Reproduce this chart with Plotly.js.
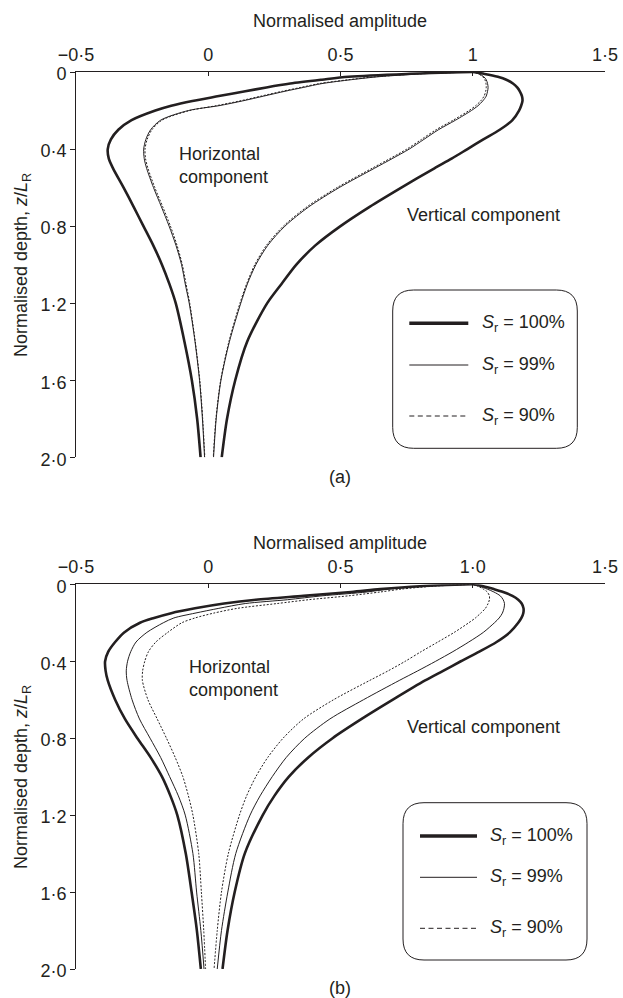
<!DOCTYPE html>
<html><head><meta charset="utf-8">
<script src="https://cdn.plot.ly/plotly-3.0.1.min.js"></script>
<style>html,body{margin:0;padding:0;background:#fff}#chart{width:623px;height:998px}</style>
</head><body><div id="chart"></div><script>
// Normalised depth z/L_R (shared sampling for all curves)
const depth = [0, 0.01, 0.025, 0.04, 0.06, 0.08, 0.1, 0.125, 0.15, 0.175, 0.2, 0.25, 0.3, 0.35, 0.4, 0.45, 0.5, 0.6, 0.7, 0.8, 0.9, 1.0, 1.1, 1.2, 1.4, 1.6, 1.8, 2.0];

// Panel (a) - horizontal component
const aH100 = [1.0, 0.75, 0.53, 0.43, 0.31, 0.22, 0.14, 0.04, -0.06, -0.14, -0.2, -0.29, -0.34, -0.368, -0.38, -0.376, -0.36, -0.32, -0.282, -0.245, -0.208, -0.175, -0.147, -0.123, -0.09, -0.062, -0.042, -0.029];
const aH99  = [1.0, 0.8, 0.64, 0.54, 0.43, 0.36, 0.29, 0.21, 0.13, 0.04, -0.075, -0.18, -0.218, -0.236, -0.244, -0.242, -0.233, -0.207, -0.177, -0.148, -0.122, -0.101, -0.087, -0.072, -0.05, -0.033, -0.022, -0.014];
const aH90  = [1.0, 0.79, 0.63, 0.53, 0.42, 0.35, 0.28, 0.2, 0.12, 0.03, -0.07, -0.175, -0.213, -0.231, -0.239, -0.237, -0.228, -0.202, -0.172, -0.143, -0.118, -0.098, -0.084, -0.07, -0.049, -0.032, -0.021, -0.013];
// Panel (a) - vertical component
const aV100 = [1.0, 1.045, 1.095, 1.127, 1.152, 1.168, 1.178, 1.186, 1.188, 1.183, 1.175, 1.15, 1.102, 1.04, 0.98, 0.92, 0.855, 0.73, 0.61, 0.50, 0.405, 0.333, 0.277, 0.223, 0.147, 0.102, 0.071, 0.051];
const aV99  = [1.0, 1.025, 1.042, 1.051, 1.056, 1.058, 1.056, 1.051, 1.038, 1.02, 0.995, 0.935, 0.87, 0.815, 0.76, 0.695, 0.628, 0.495, 0.38, 0.29, 0.225, 0.18, 0.148, 0.123, 0.08, 0.048, 0.03, 0.02];
const aV90  = [1.0, 1.022, 1.038, 1.046, 1.05, 1.051, 1.049, 1.043, 1.03, 1.011, 0.986, 0.926, 0.861, 0.806, 0.751, 0.686, 0.619, 0.487, 0.373, 0.284, 0.22, 0.176, 0.145, 0.12, 0.078, 0.047, 0.029, 0.019];

// Panel (b) - horizontal component
const bH100 = [1.0, 0.8, 0.65, 0.54, 0.36, 0.18, 0.06, -0.05, -0.14, -0.205, -0.258, -0.318, -0.352, -0.378, -0.39, -0.388, -0.38, -0.352, -0.315, -0.268, -0.218, -0.175, -0.143, -0.117, -0.085, -0.063, -0.043, -0.028];
const bH99  = [1.0, 0.82, 0.68, 0.6, 0.43, 0.3, 0.14, 0.04, -0.05, -0.13, -0.17, -0.232, -0.273, -0.293, -0.305, -0.31, -0.307, -0.288, -0.26, -0.22, -0.18, -0.146, -0.113, -0.087, -0.058, -0.044, -0.028, -0.016];
const bH90  = [1.0, 0.85, 0.73, 0.65, 0.53, 0.38, 0.26, 0.11, 0.02, -0.05, -0.1, -0.153, -0.198, -0.226, -0.24, -0.248, -0.249, -0.228, -0.193, -0.158, -0.125, -0.096, -0.075, -0.058, -0.036, -0.026, -0.017, -0.01];
// Panel (b) - vertical component
const bV100 = [1.0, 1.04, 1.08, 1.115, 1.15, 1.172, 1.185, 1.192, 1.191, 1.184, 1.172, 1.14, 1.09, 1.025, 0.955, 0.888, 0.82, 0.698, 0.58, 0.47, 0.378, 0.305, 0.25, 0.206, 0.138, 0.1, 0.073, 0.054];
const bV99  = [1.0, 1.025, 1.055, 1.08, 1.104, 1.115, 1.12, 1.118, 1.112, 1.1, 1.082, 1.04, 0.985, 0.925, 0.86, 0.792, 0.722, 0.587, 0.46, 0.365, 0.295, 0.242, 0.196, 0.158, 0.104, 0.074, 0.05, 0.034];
const bV90  = [1.0, 1.02, 1.04, 1.055, 1.063, 1.063, 1.058, 1.048, 1.03, 1.01, 0.985, 0.93, 0.868, 0.805, 0.745, 0.68, 0.61, 0.474, 0.36, 0.283, 0.225, 0.18, 0.145, 0.118, 0.076, 0.05, 0.034, 0.022];

// Tick labels
const xTickVals = [-0.5, 0, 0.5, 1, 1.5];
const xTickTextA = ['\u22120\u00b75', '0', '0\u00b75', '1', '1\u00b75'];
const xTickTextB = ['\u22120\u00b75', '0', '0\u00b75', '1\u00b70', '1\u00b75'];
const yTickVals = [0, 0.4, 0.8, 1.2, 1.6, 2.0];
const yTickText = ['0', '0\u00b74', '0\u00b78', '1\u00b72', '1\u00b76', '2\u00b70'];
const legendLabels = ['<i>S</i><sub>r</sub> = 100%', '<i>S</i><sub>r</sub> = 99%', '<i>S</i><sub>r</sub> = 90%'];

// ---------- layout helpers ----------
const W = 623, H = 998, M = {l: 76, r: 18, t: 72, b: 29};
const PW = W - M.l - M.r, PH = H - M.t - M.b;
const px2x = px => (px - M.l) / PW;
const py2y = py => (H - M.b - py) / PH;
const FONT = '"Liberation Sans", Arial, Helvetica, sans-serif';
const INK = '#231f20';

const styles = {
  s100: {color: INK, width: 2.6},
  s99: {color: INK, width: 1},
  s90: {color: INK, width: 1, dash: '2px,1.6px'}
};
function tr(x, panel, st) {
  return {x: x, y: depth, xaxis: panel === 'a' ? 'x' : 'x2', yaxis: panel === 'a' ? 'y' : 'y2',
    mode: 'lines', line: Object.assign({shape: 'spline', smoothing: 0.8}, styles[st]),
    hoverinfo: 'skip', showlegend: false};
}
const data = [
  tr(aH90, 'a', 's90'), tr(aV90, 'a', 's90'), tr(aH99, 'a', 's99'), tr(aV99, 'a', 's99'), tr(aH100, 'a', 's100'), tr(aV100, 'a', 's100'),
  tr(bH90, 'b', 's90'), tr(bV90, 'b', 's90'), tr(bH99, 'b', 's99'), tr(bV99, 'b', 's99'), tr(bH100, 'b', 's100'), tr(bV100, 'b', 's100')
];

function xAx(ticktext, anchor) {
  return {domain: [0, 1], anchor: anchor, side: 'top', range: [-0.5, 1.5], tickmode: 'array', tickvals: xTickVals, ticktext: ticktext,
    ticks: 'inside', ticklen: 4, tickwidth: 1, tickcolor: INK, showline: true, linecolor: INK, linewidth: 1, ticklabelstandoff: 3,
    showgrid: false, zeroline: false, tickfont: {family: FONT, size: 18, color: INK}, fixedrange: true};
}
function yAx(domain, anchor) {
  return {domain: domain, anchor: anchor, range: [2, 0], tickmode: 'array', tickvals: yTickVals, ticktext: yTickText,
    ticks: 'outside', ticklen: 5, tickwidth: 1, tickcolor: INK, showline: true, linecolor: INK, linewidth: 1, ticklabelshift: -2,
    showgrid: false, zeroline: false, tickfont: {family: FONT, size: 18, color: INK}, fixedrange: true};
}

function roundRect(l, t, r, b, rad) {
  const X = px2x, Y = py2y;
  return 'M ' + X(l + rad) + ',' + Y(t) + ' L ' + X(r - rad) + ',' + Y(t) +
    ' Q ' + X(r) + ',' + Y(t) + ' ' + X(r) + ',' + Y(t + rad) +
    ' L ' + X(r) + ',' + Y(b - rad) + ' Q ' + X(r) + ',' + Y(b) + ' ' + X(r - rad) + ',' + Y(b) +
    ' L ' + X(l + rad) + ',' + Y(b) + ' Q ' + X(l) + ',' + Y(b) + ' ' + X(l) + ',' + Y(b - rad) +
    ' L ' + X(l) + ',' + Y(t + rad) + ' Q ' + X(l) + ',' + Y(t) + ' ' + X(l + rad) + ',' + Y(t) + ' Z';
}

const shapes = [], annotations = [];
function legendBlock(box, lx0, lx1, tx, ys) {
  shapes.push({type: 'path', xref: 'paper', yref: 'paper', path: roundRect(box[0], box[1], box[2], box[3], 21), line: {color: INK, width: 1}});
  const ls = [{width: 3.6}, {width: 1}, {width: 1, dash: '5px,3.5px'}];
  ys.forEach((y, i) => {
    shapes.push({type: 'line', xref: 'paper', yref: 'paper', x0: px2x(lx0), x1: px2x(lx1), y0: py2y(y), y1: py2y(y),
      line: Object.assign({color: INK}, ls[i])});
    annotations.push({xref: 'paper', yref: 'paper', x: px2x(tx), y: py2y(y), xanchor: 'left', yanchor: 'middle',
      text: legendLabels[i], showarrow: false, font: {family: FONT, size: 18, color: INK}});
  });
}
legendBlock([392.7, 290, 577.3, 448.3], 409.3, 468.3, 480, [323.3, 365, 416]);
legendBlock([403, 802.7, 587, 960], 420, 477, 487.5, [836, 877.3, 928.3]);

function txt(text, px, py, opts) {
  annotations.push(Object.assign({xref: 'paper', yref: 'paper', x: px2x(px), y: py2y(py), xanchor: 'center', yanchor: 'middle',
    text: text, showarrow: false, font: {family: FONT, size: 18, color: INK}}, opts || {}));
}
txt('Normalised amplitude', 340, 21);
txt('Normalised amplitude', 340, 543.3);
txt('(a)', 340, 476.7);
txt('(b)', 340, 988);
txt('Normalised depth, <i>z</i>/<i>L</i><sub>R</sub>', 22, 265, {textangle: -90});
txt('Normalised depth, <i>z</i>/<i>L</i><sub>R</sub>', 22, 777, {textangle: -90});
txt('Horizontal<br>component', 177, 165.5, {xanchor: 'left', align: 'left'});
txt('Horizontal<br>component', 187, 678, {xanchor: 'left', align: 'left'});
txt('Vertical component', 405, 215, {xanchor: 'left'});
txt('Vertical component', 405, 726.7, {xanchor: 'left'});

const layout = {
  width: W, height: H, margin: M, paper_bgcolor: '#fff', plot_bgcolor: 'rgba(0,0,0,0)',
  font: {family: FONT, size: 18, color: INK}, showlegend: false,
  xaxis: xAx(xTickTextA, 'y'), yaxis: yAx([py2y(457.3), 1], 'x'),
  xaxis2: xAx(xTickTextB, 'y2'), yaxis2: yAx([0, py2y(584.3)], 'x2'),
  shapes: shapes, annotations: annotations
};
Plotly.newPlot('chart', data, layout, {displayModeBar: false, staticPlot: true});
</script></body></html>
